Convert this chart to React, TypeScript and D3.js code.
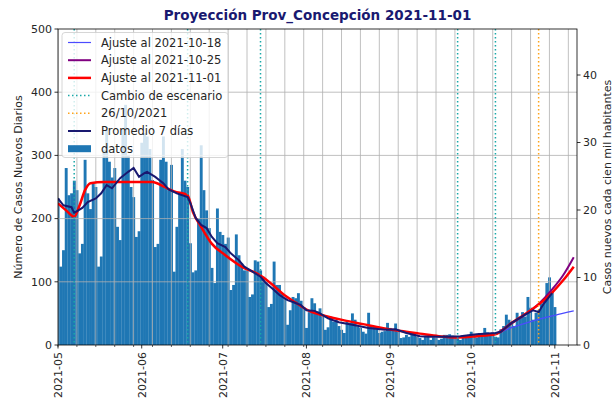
import React from 'react';
import * as d3 from 'd3';

// casos diarios desde 2021-05-01
const inicio = '2021-05-01';
const casosDiarios = [
  232, 124, 150, 280, 237, 240, 260,
  245, 145, 160, 293, 240, 215, 256,
  250, 124, 140, 309, 340, 290, 265,
  280, 187, 166, 340, 380, 300, 250,
  234, 171, 180, 320, 335, 330, 310,
  261, 155, 160, 293, 330, 290, 245,
  285, 116, 187, 240, 310, 260, 250,
  161, 115, 118, 200, 316, 245, 213,
  185, 122, 98, 216, 179, 174, 160,
  170, 87, 95, 175, 142, 129, 118,
  118, 76, 80, 134, 132, 118, 108,
  100, 60, 65, 132, 95, 95, 82,
  75, 32, 55, 76, 74, 82, 70,
  60, 27, 52, 74, 66, 53, 58,
  45, 24, 28, 45, 37, 40, 30,
  24, 19, 37, 35, 50, 40, 29,
  27, 21, 18, 51, 29, 30, 25,
  19, 21, 22, 35, 27, 25, 34,
  21, 11, 12, 16, 13, 20, 18,
  13, 11, 8, 13, 14, 8, 12,
  11, 8, 10, 16, 16, 17, 15,
  14, 10, 8, 14, 15, 16, 21,
  16, 12, 19, 18, 27, 20, 19,
  20, 13, 12, 25, 30, 48, 40,
  35, 30, 51, 42, 52, 45, 76,
  59, 40, 51, 55, 66, 70, 98,
  107, 85, 60,
];

const promedio7: [string, number][] = [
  ['2021-05-01', 232], ['2021-05-03', 221], ['2021-05-06', 218], ['2021-05-07', 209],
  ['2021-05-10', 217], ['2021-05-12', 226], ['2021-05-15', 232], ['2021-05-17', 240],
  ['2021-05-19', 253], ['2021-05-21', 248], ['2021-05-24', 264], ['2021-05-27', 274],
  ['2021-05-29', 280], ['2021-05-31', 266], ['2021-06-02', 272], ['2021-06-03', 274],
  ['2021-06-06', 266], ['2021-06-09', 256], ['2021-06-11', 246], ['2021-06-14', 240],
  ['2021-06-18', 234], ['2021-06-19', 225], ['2021-06-21', 201], ['2021-06-23', 190],
  ['2021-06-25', 185], ['2021-06-27', 171], ['2021-06-29', 161], ['2021-07-02', 155],
  ['2021-07-04', 145], ['2021-07-07', 134], ['2021-07-09', 124], ['2021-07-12', 116],
  ['2021-07-15', 108], ['2021-07-17', 98], ['2021-07-20', 87], ['2021-07-22', 79],
  ['2021-07-25', 71], ['2021-07-27', 68], ['2021-07-30', 63], ['2021-08-01', 55],
  ['2021-08-04', 54], ['2021-08-06', 50], ['2021-08-09', 42], ['2021-08-13', 36],
  ['2021-08-18', 32], ['2021-08-24', 27], ['2021-08-30', 24], ['2021-09-03', 25],
  ['2021-09-07', 19], ['2021-09-12', 14], ['2021-09-16', 13], ['2021-09-22', 13],
  ['2021-09-27', 14], ['2021-10-03', 17], ['2021-10-10', 19], ['2021-10-12', 21],
  ['2021-10-16', 35], ['2021-10-21', 48], ['2021-10-24', 55], ['2021-10-26', 52],
  ['2021-10-28', 66], ['2021-10-31', 82],
];

const ajuste1101: [string, number][] = [
  ['2021-05-01', 224], ['2021-05-04', 213], ['2021-05-07', 203], ['2021-05-09', 221],
  ['2021-05-11', 245], ['2021-05-13', 256], ['2021-05-18', 258], ['2021-06-05', 258],
  ['2021-06-09', 251], ['2021-06-13', 243], ['2021-06-18', 237], ['2021-06-20', 210],
  ['2021-06-23', 187], ['2021-06-27', 160], ['2021-07-02', 142], ['2021-07-08', 124],
  ['2021-07-15', 110], ['2021-07-19', 97], ['2021-07-23', 82], ['2021-07-28', 67],
  ['2021-08-02', 54], ['2021-08-08', 46], ['2021-08-15', 39], ['2021-08-22', 33],
  ['2021-08-29', 27], ['2021-09-05', 22], ['2021-09-12', 18], ['2021-09-19', 14],
  ['2021-09-26', 12], ['2021-10-03', 14], ['2021-10-10', 17], ['2021-10-16', 35],
  ['2021-10-21', 49], ['2021-10-26', 64], ['2021-10-31', 83], ['2021-11-04', 102],
  ['2021-11-08', 124],
];

const ajuste1025: [string, number][] = [
  ['2021-10-10', 17], ['2021-10-16', 34], ['2021-10-21', 48], ['2021-10-26', 65],
  ['2021-10-31', 88], ['2021-11-04', 110], ['2021-11-08', 139],
];

const ajuste1018: [string, number][] = [
  ['2021-10-10', 17], ['2021-10-15', 26], ['2021-10-23', 37], ['2021-11-01', 47],
  ['2021-11-08', 54],
];

const cambiosEscenario = ['2021-05-07', '2021-06-18', '2021-07-15', '2021-09-26', '2021-10-10'];
const fechaCorte = '2021-10-26';
const ticksIzq = [0, 100, 200, 300, 400, 500];
const ticksDer = [0, 10, 20, 30, 40];
const poblacion = 1068000;

const W = 616;
const H = 404;
const m = { left: 58, right: 577, top: 29, bottom: 345 };
const font = 'DejaVu Sans, sans-serif';
const colBar = '#1f77b4';
const colNavy = '#191970';
const colRed = '#ff0000';
const colPurple = '#800080';
const colBlue = '#4b4bff';
const colTeal = '#1aa8a8';
const colOrange = '#ffa31a';

const parse = d3.timeParse('%Y-%m-%d');

export default function App() {
  const t0 = parse(inicio) as Date;
  const x = d3.scaleTime()
    .domain([t0, new Date(2021, 10, 9, 5)])
    .range([m.left, m.right]);
  const y = d3.scaleLinear().domain([0, 500]).range([m.bottom, m.top]);
  const yDer = d3.scaleLinear().domain([0, (500 * 1e5) / poblacion]).range([m.bottom, m.top]);

  const bars = casosDiarios.map((v, i) => ({ fecha: d3.timeDay.offset(t0, i), v }));
  const bw = x(d3.timeDay.offset(t0, 1)) - x(t0);

  const linea = d3.line<[string, number]>()
    .x((d) => x(parse(d[0]) as Date))
    .y((d) => y(d[1]));
  const lineaSuave = d3.line<[string, number]>()
    .x((d) => x(parse(d[0]) as Date))
    .y((d) => y(d[1]))
    .curve(d3.curveMonotoneX);

  const meses = d3.timeMonth.range(t0, new Date(2021, 10, 2));
  const semanas = d3.timeSaturday.range(t0, new Date(2021, 10, 10));
  const fmt = d3.timeFormat('%Y-%m');

  const legend = [
    { label: 'Ajuste al 2021-10-18', color: colBlue, w: 1.2, dash: '' },
    { label: 'Ajuste al 2021-10-25', color: colPurple, w: 2, dash: '' },
    { label: 'Ajuste al 2021-11-01', color: colRed, w: 2.5, dash: '' },
    { label: 'Cambio de escenario', color: colTeal, w: 1.5, dash: '1.5 2.5' },
    { label: '26/10/2021', color: colOrange, w: 1.5, dash: '1.5 2.5' },
    { label: 'Promedio 7 días', color: colNavy, w: 2, dash: '' },
    { label: 'datos', color: colBar, w: 0, dash: '' },
  ];

  return (
    <svg width={W} height={H} style={{ position: 'fixed', left: 0, top: 0, background: '#fff' }}
      fontFamily={font}>
      <defs>
        <clipPath id="plot">
          <rect x={m.left} y={m.top} width={m.right - m.left} height={m.bottom - m.top} />
        </clipPath>
      </defs>
      <text x={(m.left + m.right) / 2} y={20} textAnchor="middle" fontSize={13.5}
        fontWeight="bold" fill={colNavy}>Proyección Prov_Concepción 2021-11-01</text>

      <g clipPath="url(#plot)">
        {bars.map((b, i) => (
          <rect key={i} x={x(b.fecha) - bw / 2} width={bw + 0.2} y={y(b.v)}
            height={m.bottom - y(b.v)} fill={colBar} />
        ))}
        {/* grilla */}
        {semanas.map((s, i) => (
          <line key={'g' + i} x1={x(s)} x2={x(s)} y1={m.top} y2={m.bottom}
            stroke="#b0b0b0" strokeWidth={0.8} />
        ))}
        {ticksIzq.slice(1, -1).map((t) => (
          <line key={'h' + t} x1={m.left} x2={m.right} y1={y(t)} y2={y(t)}
            stroke="#b0b0b0" strokeWidth={0.8} />
        ))}
        <path d={lineaSuave(ajuste1018) || ''} fill="none" stroke={colBlue} strokeWidth={1.2} />
        <path d={lineaSuave(ajuste1025) || ''} fill="none" stroke={colPurple} strokeWidth={2} />
        <path d={lineaSuave(ajuste1101) || ''} fill="none" stroke={colRed} strokeWidth={2.5} />
        {cambiosEscenario.map((f) => (
          <line key={f} x1={x(parse(f) as Date)} x2={x(parse(f) as Date)} y1={m.top} y2={m.bottom}
            stroke={colTeal} strokeWidth={1.5} strokeDasharray="1.5 2.5" />
        ))}
        <line x1={x(parse(fechaCorte) as Date)} x2={x(parse(fechaCorte) as Date)} y1={m.top} y2={m.bottom}
          stroke={colOrange} strokeWidth={1.5} strokeDasharray="1.5 2.5" />
        <path d={linea(promedio7) || ''} fill="none" stroke={colNavy} strokeWidth={2} />
      </g>

      {/* marco */}
      <rect x={m.left} y={m.top} width={m.right - m.left} height={m.bottom - m.top}
        fill="none" stroke="#000" strokeWidth={0.8} />

      {/* eje x */}
      {semanas.map((s, i) => (
        <line key={'mt' + i} x1={x(s)} x2={x(s)} y1={m.bottom} y2={m.bottom + 2} stroke="#000" strokeWidth={0.6} />
      ))}
      {meses.map((mm) => (
        <g key={fmt(mm)} transform={`translate(${x(mm)},${m.bottom})`}>
          <line y2={3.5} stroke="#000" strokeWidth={0.8} />
          <text transform="translate(0,7) rotate(-90)" textAnchor="end" dy="0.35em"
            fontSize={11} fill="#262626">{fmt(mm)}</text>
        </g>
      ))}

      {/* eje izquierdo */}
      {ticksIzq.map((t) => (
        <g key={'l' + t} transform={`translate(${m.left},${y(t)})`}>
          <line x2={-3.5} stroke="#000" strokeWidth={0.8} />
          <text x={-6} dy="0.35em" textAnchor="end" fontSize={11} fill="#262626">{t}</text>
        </g>
      ))}
      <text transform={`translate(18,${(m.top + m.bottom) / 2}) rotate(-90)`} textAnchor="middle"
        dy="0.35em" fontSize={11} fill="#262626">Número de Casos Nuevos Diarios</text>

      {/* eje derecho */}
      {ticksDer.map((t) => (
        <g key={'r' + t} transform={`translate(${m.right},${yDer(t)})`}>
          <line x2={3.5} stroke="#000" strokeWidth={0.8} />
          <text x={6} dy="0.35em" textAnchor="start" fontSize={11} fill="#262626">{t}</text>
        </g>
      ))}
      <text transform={`translate(607,${(m.top + m.bottom) / 2}) rotate(-90)`} textAnchor="middle"
        dy="0.35em" fontSize={11} fill="#262626">Casos nuevos cada cien mil habitantes</text>

      {/* leyenda */}
      <g>
        <rect x={62} y={32.5} width={166} height={125} rx={3} fill="#fff" fillOpacity={0.8}
          stroke="#cccccc" strokeWidth={0.8} />
        {legend.map((l, i) => {
          const cy = 42.5 + i * 17.7;
          return (
            <g key={l.label}>
              {l.w > 0 ? (
                <line x1={68} x2={91} y1={cy} y2={cy} stroke={l.color} strokeWidth={l.w}
                  strokeDasharray={l.dash || undefined} />
              ) : (
                <rect x={68} y={cy - 3.5} width={23} height={7} fill={l.color} />
              )}
              <text x={101} y={cy} dy="0.35em" fontSize={11.5} fill="#262626">{l.label}</text>
            </g>
          );
        })}
      </g>
    </svg>
  );
}
